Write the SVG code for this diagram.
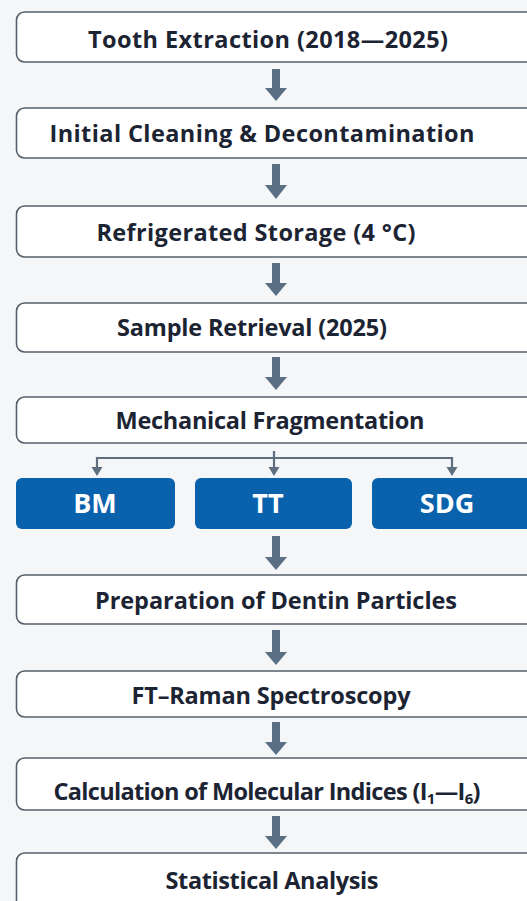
<svg xmlns="http://www.w3.org/2000/svg" width="527" height="901" viewBox="0 0 527 901">
<defs>
<style>
.bg{fill:#f4f6f8}
.box{fill:#ffffff;stroke:#56616c;stroke-width:1.6}
.blue{fill:#0a62ad}
.t{font-family:"Open Sans","Noto Sans","DejaVu Sans",sans-serif;font-weight:700;font-size:23.5px;fill:#1c2433;text-anchor:middle}
.w{font-family:"Open Sans","Noto Sans","DejaVu Sans",sans-serif;font-weight:700;font-size:27px;fill:#ffffff;text-anchor:middle}
.arr{fill:#5a6f84}
.thin{fill:none;stroke:#5f6f80;stroke-width:2.2}
.head{fill:#5f6f80}
</style>
</defs>
<rect class="bg" x="0" y="0" width="527" height="901"/>

<g id="n1"><rect class="box" x="16.5" y="12" width="530" height="50" rx="8"/><text class="t" x="268" y="48" textLength="360" lengthAdjust="spacing">Tooth Extraction (2018—2025)</text></g>
<g id="n2"><rect class="box" x="16.5" y="108" width="530" height="50" rx="8"/><text class="t" x="262" y="142" textLength="425" lengthAdjust="spacing">Initial Cleaning &amp; Decontamination</text></g>
<g id="n3"><rect class="box" x="16.5" y="206" width="530" height="51" rx="8"/><text class="t" x="256" y="241" textLength="319" lengthAdjust="spacing">Refrigerated Storage (4 °C)</text></g>
<g id="n4"><rect class="box" x="16.5" y="303" width="530" height="49" rx="8"/><text class="t" x="252" y="336" textLength="270" lengthAdjust="spacing">Sample Retrieval (2025)</text></g>
<g id="n5"><rect class="box" x="16.5" y="397" width="530" height="46" rx="8"/><text class="t" x="270" y="429" textLength="309" lengthAdjust="spacing">Mechanical Fragmentation</text></g>
<g id="bm"><rect class="blue" x="16" y="478" width="159" height="51" rx="6"/><text class="w" x="95" y="513">BM</text></g>
<g id="tt"><rect class="blue" x="195" y="478" width="157" height="51" rx="6"/><text class="w" x="268" y="513">TT</text></g>
<g id="sdg"><rect class="blue" x="372" y="478" width="170" height="51" rx="6"/><text class="w" x="447" y="513">SDG</text></g>
<g id="n6"><rect class="box" x="16.5" y="575" width="530" height="49" rx="8"/><text class="t" x="276" y="609" textLength="362" lengthAdjust="spacing">Preparation of Dentin Particles</text></g>
<g id="n7"><rect class="box" x="16.5" y="671" width="530" height="46" rx="8"/><text class="t" x="271" y="704" textLength="279" lengthAdjust="spacing">FT–Raman Spectroscopy</text></g>
<g id="n8"><rect class="box" x="16.5" y="758" width="530" height="52" rx="8"/><text class="t" x="267" y="800" textLength="427" lengthAdjust="spacing">Calculation of Molecular Indices (I<tspan font-size="15" dy="4">1</tspan><tspan dy="-4">—I</tspan><tspan font-size="15" dy="4">6</tspan><tspan dy="-4">)</tspan></text></g>
<g id="n9"><rect class="box" x="16.5" y="853" width="530" height="70" rx="8"/><text class="t" x="272" y="889" textLength="213" lengthAdjust="spacing">Statistical Analysis</text></g>

<g id="connectors">
<polygon class="arr" points="272,69 280,69 280,88 287,88 276,101 265,88 272,88"/>
<polygon class="arr" points="272,164 280,164 280,185 287,185 276,199 265,185 272,185"/>
<polygon class="arr" points="272,263 280,263 280,283 287,283 276,296 265,283 272,283"/>
<polygon class="arr" points="272,357 280,357 280,377 287,377 276,390 265,377 272,377"/>
<polygon class="arr" points="272,536 280,536 280,557 287,557 276,570 265,557 272,557"/>
<polygon class="arr" points="272,630 280,630 280,652 287,652 276,665 265,652 272,652"/>
<polygon class="arr" points="272,722 280,722 280,742 287,742 276,755 265,742 272,742"/>
<polygon class="arr" points="272,816 280,816 280,836 287,836 276,849 265,836 272,836"/>
<path class="thin" d="M274,451 V469 M97,458 H452 M97,457 V469 M452,457 V469"/>
<polygon class="head" points="91.5,467 102.5,467 97,476"/>
<polygon class="head" points="268.5,467 279.5,467 274,476"/>
<polygon class="head" points="446.5,467 457.5,467 452,476"/>
</g>
</svg>
